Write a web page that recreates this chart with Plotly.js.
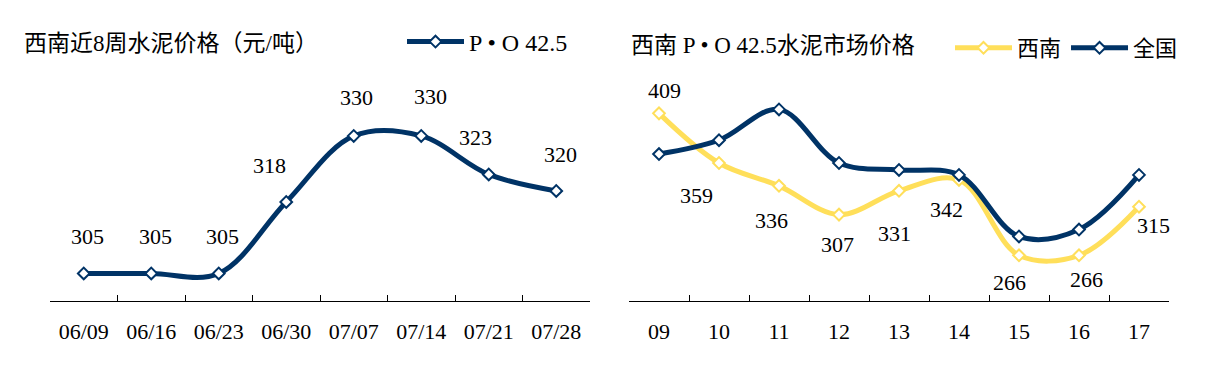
<!DOCTYPE html>
<html>
<head>
<meta charset="utf-8">
<script src="https://cdn.plot.ly/plotly-3.0.1.min.js"></script>
<style>
  html, body { margin: 0; padding: 0; background: #fff; }
  #chart { width: 1206px; height: 366px; }
</style>
</head>
<body>
<div id="chart"></div>
<script>
// ---- data ----
const weeks = ['06/09', '06/16', '06/23', '06/30', '07/07', '07/14', '07/21', '07/28'];
const poPrice = [305, 305, 305, 318, 330, 330, 323, 320];

const months = ['09', '10', '11', '12', '13', '14', '15', '16', '17'];
const southwest = [409, 359, 336, 307, 331, 342, 266, 266, 315];
const national = [368, 382, 413, 359, 352, 347, 285, 292, 347];

const leftTitle = '西南近8周水泥价格（元/吨）';
const rightTitle = '西南 P • O 42.5水泥市场价格';
const leftSeriesName = 'P • O 42.5';
const swName = '西南';
const natName = '全国';

// ---- label nudges (style only) ----
const leftShiftX = [4, 4, 4, -17, 3, 9, -13, 4];
const leftShiftY = [37, 37, 37, 36, 38, 39, 37, 36];
const swShiftX = [5, -23, -8, -2, -5, -13, -10, 7, 14];
const swShiftY = [23, -32, -35, -30, -43, -30, -27, -24, -19];

const NAVY = '#003366';
const YELLOW = '#FFDF5A';
const FONT = 'Liberation Serif, "Times New Roman", "Noto Sans CJK SC", serif';

const traces = [
  {
    x: weeks, y: poPrice, xaxis: 'x', yaxis: 'y', name: leftSeriesName,
    type: 'scatter', mode: 'lines+markers',
    line: { color: NAVY, width: 5, shape: 'spline', smoothing: 1 },
    marker: { symbol: 'diamond', size: 9, color: '#ffffff', line: { color: NAVY, width: 2 } },
    legend: 'legend', hoverinfo: 'skip'
  },
  {
    x: months, y: southwest, xaxis: 'x2', yaxis: 'y2', name: swName,
    type: 'scatter', mode: 'lines+markers',
    line: { color: YELLOW, width: 5, shape: 'spline', smoothing: 1 },
    marker: { symbol: 'diamond', size: 9, color: '#ffffff', line: { color: YELLOW, width: 2 } },
    legend: 'legend2', hoverinfo: 'skip'
  },
  {
    x: months, y: national, xaxis: 'x2', yaxis: 'y2', name: natName,
    type: 'scatter', mode: 'lines+markers',
    line: { color: NAVY, width: 5, shape: 'spline', smoothing: 1 },
    marker: { symbol: 'diamond', size: 9, color: '#ffffff', line: { color: NAVY, width: 2 } },
    legend: 'legend2', hoverinfo: 'skip'
  }
];

const annotations = [];
weeks.forEach((w, i) => {
  annotations.push({
    x: i, y: poPrice[i], xref: 'x', yref: 'y', text: String(poPrice[i]),
    showarrow: false, xshift: leftShiftX[i], yshift: leftShiftY[i],
    font: { family: FONT, size: 22, color: '#000' }
  });
});
months.forEach((m, i) => {
  annotations.push({
    x: i, y: southwest[i], xref: 'x2', yref: 'y2', text: String(southwest[i]),
    showarrow: false, xshift: swShiftX[i], yshift: swShiftY[i],
    font: { family: FONT, size: 22, color: '#000' }
  });
});
annotations.push({
  xref: 'paper', yref: 'paper', x: 22 / 1206, y: (366 - 43) / 366,
  xanchor: 'left', yanchor: 'middle', showarrow: false, text: leftTitle,
  font: { family: FONT, size: 23, color: '#000' }
});
annotations.push({
  xref: 'paper', yref: 'paper', x: 629 / 1206, y: (366 - 45) / 366,
  xanchor: 'left', yanchor: 'middle', showarrow: false, text: rightTitle,
  font: { family: FONT, size: 23, color: '#000' }
});

const xCommon = {
  type: 'category', showline: true, linecolor: '#000', linewidth: 1,
  ticks: 'inside', tickson: 'boundaries', ticklen: 6, tickcolor: '#000', tickwidth: 1,
  showgrid: false, zeroline: false, ticklabelstandoff: 11,
  tickfont: { family: FONT, size: 22, color: '#000' }, fixedrange: true
};

const layout = {
  width: 1206, height: 366,
  margin: { l: 0, r: 0, t: 0, b: 0 },
  paper_bgcolor: '#fff', plot_bgcolor: '#fff',
  showlegend: true,
  xaxis: Object.assign({}, xCommon, { domain: [50 / 1206, 590 / 1206], anchor: 'y', range: [-0.5, weeks.length - 0.5] }),
  xaxis2: Object.assign({}, xCommon, { domain: [629 / 1206, 1169 / 1206], anchor: 'y2', range: [-0.5, months.length - 0.5] }),
  yaxis: { domain: [0.1776, 0.773], range: [300, 339.6], visible: false, fixedrange: true, anchor: 'x' },
  yaxis2: { domain: [0.1776, 0.773], range: [220, 439.5], visible: false, fixedrange: true, anchor: 'x2' },
  legend: {
    orientation: 'h', x: 402 / 1206, y: (366 - 42) / 366, xanchor: 'left', yanchor: 'middle',
    font: { family: FONT, size: 24, color: '#000' }, bgcolor: 'rgba(0,0,0,0)', itemwidth: 57
  },
  legend2: {
    orientation: 'h', x: 950 / 1206, y: (366 - 48) / 366, xanchor: 'left', yanchor: 'middle',
    font: { family: FONT, size: 22, color: '#000' }, bgcolor: 'rgba(0,0,0,0)', itemwidth: 57
  },
  annotations: annotations,
  hovermode: false
};

Plotly.newPlot('chart', traces, layout, { displayModeBar: false, staticPlot: true });
</script>
</body>
</html>
